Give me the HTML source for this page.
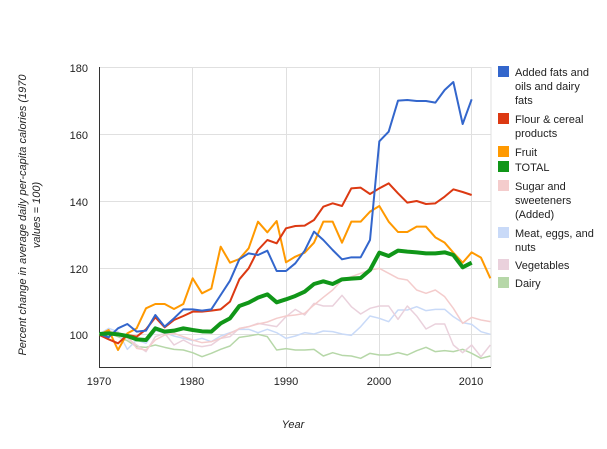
<!DOCTYPE html>
<html><head><meta charset="utf-8"><style>
body{margin:0;background:#fff;}
svg{font-family:"Liberation Sans",Arial,sans-serif;}
</style></head><body>
<svg width="607" height="444" viewBox="0 0 607 444" xmlns="http://www.w3.org/2000/svg">
<rect width="607" height="444" fill="#fff"/>
<g stroke="#e0e0e0" stroke-width="1">
<line x1="99" y1="67.5" x2="491" y2="67.5"/>
<line x1="99" y1="134.5" x2="491" y2="134.5"/>
<line x1="99" y1="201.5" x2="491" y2="201.5"/>
<line x1="99" y1="268.5" x2="491" y2="268.5"/>
<line x1="99" y1="334.5" x2="491" y2="334.5"/>
<line x1="192.5" y1="67" x2="192.5" y2="367"/>
<line x1="286.5" y1="67" x2="286.5" y2="367"/>
<line x1="379.5" y1="67" x2="379.5" y2="367"/>
<line x1="471.5" y1="67" x2="471.5" y2="367"/>
<line x1="491" y1="67" x2="491" y2="367"/>
</g>
<g stroke="#333" stroke-width="1">
<line x1="99.5" y1="67" x2="99.5" y2="368"/>
<line x1="99" y1="367.5" x2="491" y2="367.5"/>
</g>
<g font-size="11" fill="#222" text-anchor="end">
<text x="88" y="72">180</text><text x="88" y="139">160</text><text x="88" y="206">140</text><text x="88" y="273">120</text><text x="88" y="339">100</text>
</g>
<g font-size="11" fill="#222" text-anchor="middle">
<text x="99" y="385">1970</text><text x="192" y="385">1980</text><text x="286" y="385">1990</text><text x="379" y="385">2000</text><text x="471" y="385">2010</text>
</g>
<text x="293" y="428" font-size="11" font-style="italic" text-anchor="middle" fill="#222">Year</text>
<g transform="translate(30,215) rotate(-90)" font-size="11" font-style="italic" fill="#222" text-anchor="middle">
<text x="0" y="-4">Percent change in average daily per-capita calories (1970</text>
<text x="0" y="10">values = 100)</text>
</g>
<g fill="none" stroke-linejoin="round" transform="translate(90,60) scale(0.33333)">
<polyline vector-effect="non-scaling-stroke" stroke="#b6d7a8" stroke-width="1.5" points="28,822 56,820 84,830 112,842 140,860 168,862 196,855 224,862 252,868 280,870 308,878 336,890 364,880 392,868 420,858 448,832 476,828 504,823 532,830 560,870 588,866 616,870 644,870 672,868 700,888 728,878 756,886 784,888 812,895 840,880 868,885 896,885 924,878 952,885 980,872 1008,862 1036,875 1064,872 1090,875 1118,868 1145,880 1173,895 1201,888"/>
<polyline vector-effect="non-scaling-stroke" stroke="#c9daf8" stroke-width="1.5" points="28,822 56,805 84,815 112,868 140,840 168,850 196,812 224,818 252,828 280,835 308,842 336,835 364,845 392,828 420,818 448,808 476,808 504,818 532,808 560,818 588,835 616,828 644,818 672,822 700,813 728,815 756,822 784,826 812,800 840,768 868,775 896,785 924,750 952,750 980,740 1008,752 1036,748 1064,748 1090,770 1118,788 1145,793 1173,815 1201,823"/>
<polyline vector-effect="non-scaling-stroke" stroke="#ead1dc" stroke-width="1.5" points="28,822 56,810 84,825 112,835 140,855 168,875 196,830 224,820 252,855 280,840 308,855 336,860 364,855 392,835 420,830 448,805 476,800 504,790 532,795 560,800 588,770 616,748 644,765 672,730 700,738 728,738 756,706 784,740 812,762 840,745 868,738 896,738 924,778 952,738 980,768 1008,807 1036,792 1064,792 1090,855 1118,878 1145,855 1173,890 1201,855"/>
<polyline vector-effect="non-scaling-stroke" stroke="#f4cccc" stroke-width="1.5" points="28,822 56,815 84,818 112,828 140,865 168,870 196,840 224,825 252,820 280,830 308,840 336,848 364,845 392,835 420,820 448,806 476,800 504,792 532,786 560,775 588,768 616,765 644,760 672,735 700,712 728,690 756,660 784,650 812,640 840,630 868,625 896,640 924,655 952,660 980,690 1008,700 1036,690 1064,710 1090,745 1118,790 1145,772 1173,780 1201,785"/>
<polyline vector-effect="non-scaling-stroke" stroke="#ff9900" stroke-width="2" points="28,825 56,810 84,870 112,820 140,805 168,745 196,732 224,732 252,747 280,732 308,655 336,700 364,686 392,560 420,608 448,597 476,565 504,485 532,517 560,483 588,607 616,590 644,578 672,548 700,485 728,485 756,548 784,485 812,485 840,455 868,438 896,485 924,516 952,516 980,500 1008,500 1036,532 1064,548 1090,578 1118,608 1145,577 1173,593 1201,655"/>
<polyline vector-effect="non-scaling-stroke" stroke="#dc3912" stroke-width="2" points="28,825 56,838 84,850 112,825 140,830 168,808 196,772 224,802 252,780 280,768 308,755 336,755 364,752 392,748 420,725 448,658 476,625 504,570 532,540 560,550 588,505 616,498 644,497 672,480 700,440 728,430 756,438 784,385 812,383 840,402 868,385 896,370 924,400 952,428 980,423 1008,432 1036,430 1064,410 1090,388 1118,396 1145,405"/>
<polyline vector-effect="non-scaling-stroke" stroke="#3366cc" stroke-width="2" points="28,822 56,832 84,805 112,792 140,815 168,812 196,765 224,800 252,775 280,748 308,748 336,752 364,748 392,705 420,662 448,598 476,580 504,585 532,572 560,633 588,633 616,610 644,572 672,515 700,540 728,570 756,598 784,592 812,592 840,540 868,244 896,215 924,122 952,120 980,123 1008,123 1036,128 1064,90 1090,66 1118,192 1145,118"/>
<polyline vector-effect="non-scaling-stroke" stroke="#109618" stroke-width="4" points="28,822 56,820 84,823 112,828 140,838 168,840 196,805 224,815 252,812 280,805 308,810 336,814 364,815 392,790 420,775 448,738 476,728 504,713 532,703 560,727 588,718 616,708 644,695 672,672 700,664 728,672 756,658 784,656 812,654 840,630 868,578 896,588 924,572 952,575 980,577 1008,580 1036,580 1064,577 1090,585 1118,622 1145,608"/>
</g>
<g font-size="11" fill="#222">
<rect x="498" y="66" width="11" height="11" fill="#3366cc"/>
<text x="515" y="76">Added fats and</text><text x="515" y="90">oils and dairy</text><text x="515" y="104">fats</text>
<rect x="498" y="113" width="11" height="11" fill="#dc3912"/>
<text x="515" y="123">Flour &amp; cereal</text><text x="515" y="137">products</text>
<rect x="498" y="146" width="11" height="11" fill="#ff9900"/>
<text x="515" y="156">Fruit</text>
<rect x="498" y="161" width="11" height="11" fill="#109618"/>
<text x="515" y="171">TOTAL</text>
<rect x="498" y="180" width="11" height="11" fill="#f4cccc"/>
<text x="515" y="190">Sugar and</text><text x="515" y="204">sweeteners</text><text x="515" y="218">(Added)</text>
<rect x="498" y="227" width="11" height="11" fill="#c9daf8"/>
<text x="515" y="237">Meat, eggs, and</text><text x="515" y="251">nuts</text>
<rect x="498" y="259" width="11" height="11" fill="#ead1dc"/>
<text x="515" y="269">Vegetables</text>
<rect x="498" y="277" width="11" height="11" fill="#b6d7a8"/>
<text x="515" y="287">Dairy</text>
</g>
</svg>
</body></html>
